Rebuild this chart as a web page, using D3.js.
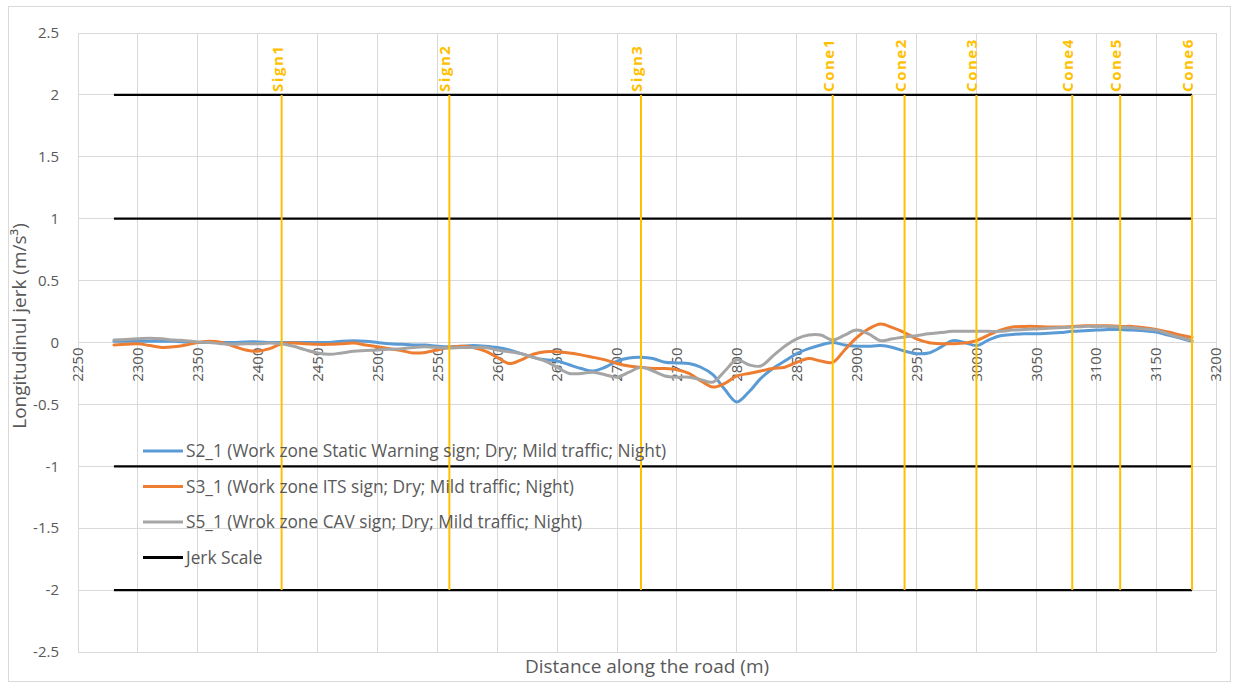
<!DOCTYPE html>
<html><head><meta charset="utf-8">
<script src="https://cdn.jsdelivr.net/npm/d3@7"></script>
<style>body{margin:0;background:#fff;}svg{display:block;font-family:"Open Sans","Lato",sans-serif;}</style>
</head><body><svg id="c" width="1238" height="688"></svg>
<script>
const distance = d3.range(2280, 3181, 10);
const s2_1 = [0.01,0.01,0.01,0.01,0.01,0.01,0.005,0.0,0.0,0.0,0.0,0.005,0.005,0.0,0.0,0.0,0.0,0.0,0.0,0.01,0.015,0.01,0.0,-0.01,-0.015,-0.02,-0.02,-0.03,-0.035,-0.03,-0.025,-0.03,-0.04,-0.06,-0.09,-0.12,-0.14,-0.15,-0.18,-0.21,-0.23,-0.2,-0.15,-0.125,-0.12,-0.13,-0.16,-0.165,-0.17,-0.2,-0.26,-0.38,-0.48,-0.4,-0.29,-0.21,-0.15,-0.09,-0.05,-0.02,0.0,-0.02,-0.03,-0.03,-0.025,-0.04,-0.07,-0.09,-0.085,-0.04,0.015,0.0,-0.025,0.02,0.055,0.065,0.07,0.07,0.075,0.08,0.09,0.095,0.1,0.105,0.105,0.1,0.095,0.085,0.06,0.035,0.01];
const s3_1 = [-0.02,-0.015,-0.01,-0.025,-0.04,-0.035,-0.02,0.0,0.01,0.0,-0.03,-0.06,-0.07,-0.05,-0.01,-0.005,-0.01,-0.015,-0.015,-0.01,-0.005,-0.02,-0.035,-0.05,-0.065,-0.085,-0.08,-0.06,-0.04,-0.03,-0.04,-0.07,-0.12,-0.17,-0.14,-0.095,-0.075,-0.075,-0.085,-0.1,-0.12,-0.14,-0.17,-0.19,-0.2,-0.21,-0.21,-0.22,-0.25,-0.31,-0.36,-0.33,-0.27,-0.25,-0.23,-0.21,-0.2,-0.16,-0.13,-0.15,-0.16,-0.06,0.04,0.11,0.15,0.12,0.08,0.03,0.0,-0.01,-0.01,-0.005,0.015,0.06,0.1,0.125,0.13,0.13,0.125,0.125,0.13,0.135,0.135,0.135,0.13,0.13,0.12,0.105,0.085,0.06,0.04];
const s5_1 = [0.02,0.025,0.03,0.035,0.03,0.02,0.015,0.005,0.0,-0.01,-0.015,-0.01,-0.01,-0.005,-0.01,-0.03,-0.06,-0.085,-0.095,-0.085,-0.07,-0.065,-0.06,-0.055,-0.05,-0.04,-0.035,-0.04,-0.045,-0.04,-0.04,-0.04,-0.06,-0.075,-0.09,-0.12,-0.15,-0.2,-0.25,-0.25,-0.24,-0.26,-0.28,-0.24,-0.2,-0.23,-0.27,-0.28,-0.28,-0.3,-0.32,-0.23,-0.14,-0.18,-0.19,-0.11,-0.03,0.03,0.06,0.06,0.02,0.06,0.1,0.07,0.015,0.03,0.045,0.055,0.07,0.08,0.09,0.09,0.09,0.09,0.09,0.1,0.105,0.11,0.115,0.12,0.125,0.13,0.13,0.13,0.125,0.12,0.11,0.1,0.07,0.04,0.015];
const jerkLevels = [2, 1, -1, -2];
const jerkRange = [2280, 3180];
const markerNames = ["Sign1","Sign2","Sign3","Cone1","Cone2","Cone3","Cone4","Cone5","Cone6"];
const markerPos = [2420, 2560, 2720, 2880, 2940, 3000, 3080, 3120, 3180];
const markerRange = [-2, 2];
const xTicks = d3.range(2250, 3201, 50);
const yTicks = [2.5, 2, 1.5, 1, 0.5, 0, -0.5, -1, -1.5, -2, -2.5];
const seriesNames = ["S2_1 (Work zone Static Warning sign; Dry; Mild traffic; Night)","S3_1 (Work zone ITS sign; Dry; Mild traffic; Night)","S5_1 (Wrok zone CAV sign; Dry; Mild traffic; Night)","Jerk Scale"];
const seriesColors = ["#5B9BD5","#ED7D31","#A5A5A5","#000000"];

const svg = d3.select("#c");
svg.append("rect").attr("x",8.5).attr("y",6.5).attr("width",1222).attr("height",675).attr("fill","#fff").attr("stroke","#D9D9D9");
const x = d3.scaleLinear().domain([2250,3200]).range([78,1216]);
const y = d3.scaleLinear().domain([-2.5,2.5]).range([652,33]);
const txt = "#595959";

// grid
svg.append("g").selectAll("line").data(xTicks).join("line")
  .attr("x1",d=>x(d)).attr("x2",d=>x(d)).attr("y1",y(2.5)).attr("y2",y(-2.5))
  .attr("stroke","#D9D9D9").attr("stroke-width",1).attr("shape-rendering","crispEdges");
svg.append("g").selectAll("line").data(yTicks).join("line")
  .attr("x1",x(2250)).attr("x2",x(3200)).attr("y1",d=>y(d)).attr("y2",d=>y(d))
  .attr("stroke","#D9D9D9").attr("stroke-width",1).attr("shape-rendering","crispEdges");

// y labels
svg.append("g").selectAll("text").data(yTicks).join("text")
  .attr("x",59).attr("y",d=>y(d)).attr("dy","0.35em").attr("text-anchor","end")
  .attr("font-size",15).attr("fill",txt).text(d=>d);
// x labels (rotated)
svg.append("g").selectAll("text").data(xTicks).join("text")
  .attr("transform",d=>`translate(${x(d)},${y(0)+5}) rotate(-90)`)
  .attr("dy","0.35em").attr("text-anchor","end")
  .attr("font-size",15).attr("fill",txt).text(d=>d);

// jerk scale lines
svg.append("g").selectAll("line").data(jerkLevels).join("line")
  .attr("x1",x(jerkRange[0])).attr("x2",x(jerkRange[1])).attr("y1",d=>y(d)).attr("y2",d=>y(d))
  .attr("stroke","#000").attr("stroke-width",2.25);

// series
const line = d3.line().x((d,i)=>x(distance[i])).y(d=>y(d)).curve(d3.curveCatmullRom.alpha(0.5));
[s2_1,s3_1,s5_1].forEach((s,k)=>{
  svg.append("path").attr("d",line(s)).attr("fill","none").attr("stroke",seriesColors[k])
    .attr("stroke-width",3).attr("stroke-linejoin","round").attr("stroke-linecap","round");
});

// markers
const mk = svg.append("g");
mk.selectAll("line").data(markerPos).join("line")
  .attr("x1",d=>x(d)).attr("x2",d=>x(d)).attr("y1",y(markerRange[0])).attr("y2",y(markerRange[1]))
  .attr("stroke","#FFC000").attr("stroke-width",2);
mk.selectAll("text").data(markerNames).join("text")
  .attr("transform",(d,i)=>`translate(${x(markerPos[i])+1},${y(markerRange[1])-3}) rotate(-90)`)
  .attr("text-anchor","start").attr("font-size",15).attr("font-weight","bold")
  .attr("letter-spacing",1.5)
  .attr("fill","#FFC000").text(d=>d);

// legend
const lg = svg.append("g");
seriesNames.forEach((n,i)=>{
  const ly = 451 + i*35.5;
  lg.append("line").attr("x1",143).attr("x2",183).attr("y1",ly).attr("y2",ly)
    .attr("stroke",seriesColors[i]).attr("stroke-width",3);
  lg.append("text").attr("x",186).attr("y",ly).attr("dy","0.35em").attr("font-size",17.3)
    .attr("fill",txt).text(n);
});

// axis titles
svg.append("text").attr("transform","translate(26,326) rotate(-90)").attr("text-anchor","middle")
  .attr("font-size",19).attr("fill",txt).text("Longitudinul jerk (m/s³)");
svg.append("text").attr("x",647).attr("y",673).attr("text-anchor","middle")
  .attr("font-size",19).attr("fill",txt).text("Distance along the road (m)");
</script></body></html>
